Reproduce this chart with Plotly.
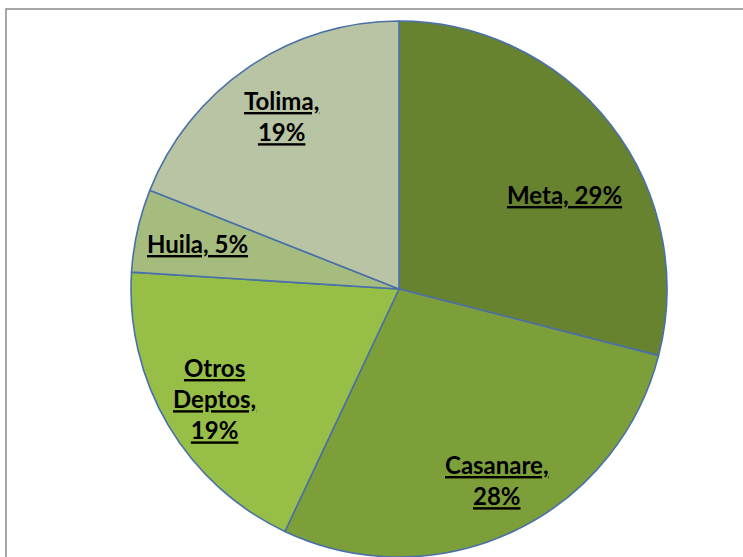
import math
import plotly.graph_objects as go

# Share of production by department
departments = ["Meta", "Casanare", "Otros Deptos", "Huila", "Tolima"]
shares = [29, 28, 19, 5, 19]
label_lines = ["Meta, 29%", "Casanare,<br>28%", "Otros<br>Deptos,<br>19%", "Huila, 5%", "Tolima,<br>19%"]

slice_colors = ["#68832f", "#7d9f3a", "#97be47", "#a5bc7e", "#b8c4a3"]
label_radius = [0.71, 0.80, 0.80, 0.77, 0.78]   # fraction of pie radius
label_turn = [8, -2, 0, 0, 0]                    # degrees, clockwise

W, H = 743, 557
CX, CY, R = 399, 289, 268   # pie centre and radius in pixels

fig = go.Figure(go.Pie(
    labels=departments,
    values=shares,
    sort=False,
    direction="clockwise",
    rotation=0,
    textinfo="none",
    hoverinfo="skip",
    marker=dict(colors=slice_colors, line=dict(color="#4a70a8", width=1.6)),
    domain=dict(x=[(CX - R) / W, (CX + R) / W], y=[1 - (CY + R) / H, 1 - (CY - R) / H]),
    showlegend=False,
))

# Labels placed along each slice's mid angle
total = sum(shares)
acc = 0
for name, v, txt, rf, turn in zip(departments, shares, label_lines, label_radius, label_turn):
    mid = (acc + v / 2) / total * 360 + turn
    acc += v
    ang = math.radians(mid)
    dx = rf * R * math.sin(ang)
    dy = rf * R * math.cos(ang)
    lines = "<br>".join(f"<b><u>{p}</u></b>" for p in txt.split("<br>"))
    fig.add_annotation(
        x=CX / W, y=1 - CY / H, xref="paper", yref="paper",
        xshift=dx, yshift=dy, text=lines, showarrow=False,
        font=dict(family="Lato, Open Sans, sans-serif", size=24, color="#000000"),
        align="center",
    )

# Chart-area frame
fig.add_shape(type="rect", xref="paper", yref="paper",
              x0=6 / W, x1=1.05, y0=-0.05, y1=1 - 9 / H,
              line=dict(color="#8a8a8a", width=1.5), fillcolor="rgba(0,0,0,0)", layer="below")

fig.update_layout(
    width=W, height=H,
    margin=dict(l=0, r=0, t=0, b=0),
    paper_bgcolor="#ffffff",
    plot_bgcolor="#ffffff",
)

fig.write_html("out.html")
